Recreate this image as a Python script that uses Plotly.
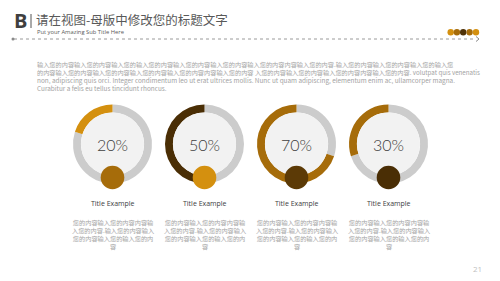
import plotly.graph_objects as go

# ---- data ----
percents = [20, 50, 70, 30]
percent_labels = ["20%", "50%", "70%", "30%"]
item_titles = ["Title Example", "Title Example", "Title Example", "Title Example"]
item_desc = [
    "您的内容输入您的内容内容输<br>入您的内容.输入您的内容输入<br>您的内容输入您的输入您的内<br>容",
] * 4
header_title = "请在视图-母版中修改您的标题文字"
header_sub = "Put your Amazing Sub Title Here"
body_lines = [
    "输入您的内容输入您的内容输入您的输入您的内容输入您的内容输入您的内容输入您的内容内容输入您的内容.输入您的内容输入您的内容输入您的输入您",
    "的内容输入您的内容输入您的内容输入您的内容输入您的内容内容输入您的内容 入您的内容输入您的内容输入您的内容内容输入您的内容. volutpat quis venenatis",
    "non, adipiscing quis orci. Integer condimentum leo ut erat ultrices mollis. Nunc ut quam adipiscing, elementum enim ac, ullamcorper magna.",
    "Curabitur a felis eu tellus tincidunt rhoncus.",
]
page_number = "21"

# ---- styles ----
ring_colors = ["#D4900F", "#4A2E05", "#A66C0A", "#A66C0A"]
dot_colors = ["#A66C0A", "#D4900F", "#5C3A06", "#4A2E05"]
header_dots = ["#D4900F", "#A66C0A", "#4F3207", "#A66C0A", "#D4900F"]
track = "#CCCCCC"
W, H = 500, 281
CJK = "Noto Sans CJK SC"
BODY = "#A3A3A3"

fig = go.Figure()
shapes = []
annotations = []

def px(x):
    return x / W

def py(y):
    return 1 - y / H

def text(x, y, s, font, xanchor="center", yanchor="middle", align="center"):
    annotations.append(dict(x=px(x), y=py(y), xref="paper", yref="paper",
                            xanchor=xanchor, yanchor=yanchor, align=align,
                            text=s, showarrow=False, font=font))

centers_x = [112.5, 204.5, 296.5, 388.5]
cy = 144
R = 39.5
for i, p in enumerate(percents):
    cx = centers_x[i]
    # gray remainder first (clockwise from 12), so the coloured share ends at 12 o'clock on the left
    fig.add_trace(go.Pie(
        values=[100 - p, p],
        marker=dict(colors=[track, ring_colors[i]], line=dict(width=0)),
        hole=0.8, sort=False, direction="clockwise", rotation=0,
        textinfo="none", hoverinfo="skip", showlegend=False,
        domain=dict(x=[px(cx - R), px(cx + R)], y=[py(cy + R), py(cy - R)]),
    ))
    ri = R * 0.8
    shapes.append(dict(type="circle", xref="paper", yref="paper",
                       x0=px(cx - ri), x1=px(cx + ri), y0=py(cy + ri), y1=py(cy - ri),
                       fillcolor="#F2F2F2", line=dict(width=0), layer="above"))
    rd = 11.8
    dy = 177.5
    shapes.append(dict(type="circle", xref="paper", yref="paper",
                       x0=px(cx - rd), x1=px(cx + rd), y0=py(dy + rd), y1=py(dy - rd),
                       fillcolor=dot_colors[i], line=dict(width=0), layer="above"))
    text(cx, cy, percent_labels[i], dict(family="Lato", size=16, color="#404040", weight=300))
    text(cx, 203, item_titles[i], dict(family="Open Sans", size=7, color="#404040"))
    text(cx, 215.5, item_desc[i], dict(family=CJK, size=6.2, color=BODY), yanchor="top")

# header
text(11.5, 21, "<b>B</b>", dict(family="Open Sans", size=20, color="#3F3F3F"), xanchor="left")
shapes.append(dict(type="line", xref="paper", yref="paper", x0=px(31), x1=px(31),
                   y0=py(14), y1=py(28), line=dict(color="#555555", width=1)))
text(34, 20, header_title, dict(family=CJK, size=12.5, color="#595959"), xanchor="left")
text(35, 32.3, header_sub, dict(family="Open Sans", size=5.8, color="#595959"), xanchor="left")
shapes.append(dict(type="line", xref="paper", yref="paper", x0=px(14), x1=px(476),
                   y0=py(39), y1=py(39), line=dict(color="#9A9A9A", width=1, dash="dot")))
shapes.append(dict(type="circle", xref="paper", yref="paper", x0=px(11.5), x1=px(14.5),
                   y0=py(40.5), y1=py(37.5), fillcolor="#8A8A8A", line=dict(width=0)))
shapes.append(dict(type="path", xref="paper", yref="paper",
                   path=f"M {px(476)} {py(36.5)} L {px(479)} {py(39)} L {px(476)} {py(41.5)}",
                   line=dict(color="#8A8A8A", width=1)))
hx = [450.7, 456.9, 463.2, 469.6, 476]
for j, c in enumerate(header_dots):
    shapes.append(dict(type="circle", xref="paper", yref="paper",
                       x0=px(hx[j] - 3.2), x1=px(hx[j] + 3.2), y0=py(32.3 + 3.2), y1=py(32.3 - 3.2),
                       fillcolor=c, line=dict(width=0)))

# body paragraph
body_y = [64.3, 72.3, 80.3, 88.5]
body_sizes = [6.2, 6.2, 6.4, 6.4]
for k, line in enumerate(body_lines):
    text(35, body_y[k], line, dict(family=CJK, size=body_sizes[k], color=BODY), xanchor="left")

text(477, 268, page_number, dict(family="Open Sans", size=8, color="#BFBFBF"))

fig.update_layout(
    width=W, height=H, margin=dict(l=0, r=0, t=0, b=0),
    paper_bgcolor="white", plot_bgcolor="white",
    shapes=shapes, annotations=annotations,
    xaxis=dict(visible=False), yaxis=dict(visible=False),
)
fig.write_html("out.html")
